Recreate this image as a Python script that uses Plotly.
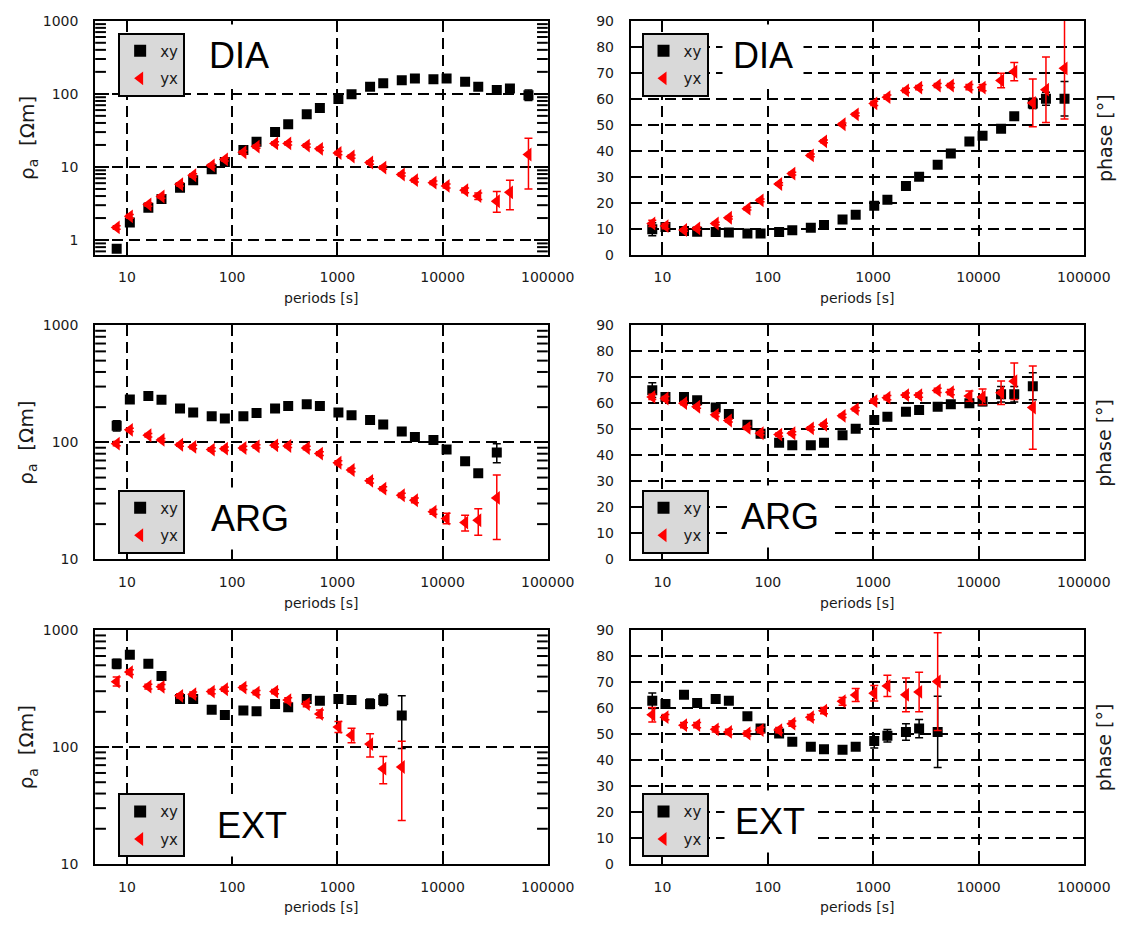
import math
import plotly.graph_objects as go

# ---------------- data ----------------
periods_all = [8, 10.67, 16, 21.33, 32, 42.67, 64, 85.33, 128, 170.7, 256, 341.3, 512, 682.7,
               1024, 1365, 2048, 2731, 4096, 5461, 8192, 10923, 16384, 21845, 32768, 43691, 65536]
periods_dia = periods_all
periods_arg = periods_all[:25]
periods_ext = periods_all[:19]

# DIA
dia_rho_xy = [0.76, 1.74, 2.76, 3.65, 5.2, 6.6, 9.3, 11.7, 17.1, 22.2, 30.2, 38.4, 52.8, 64, 84.8, 98.9,
              125, 140, 154, 162, 158, 162, 147, 125, 113, 118, 96]
dia_rho_xy_ep = [0.05, 0.1, 0.15, 0.2, 0.3, 0.35, 0.5, 0.6, 0.9, 1.1, 1.5, 1.9, 2.6, 3, 4, 5, 6, 7, 8, 8, 8, 9, 8, 7, 6, 8, 17]
dia_rho_xy_em = [0.05, 0.1, 0.15, 0.2, 0.3, 0.35, 0.5, 0.6, 0.9, 1.1, 1.5, 1.9, 2.6, 3, 4, 5, 6, 7, 8, 8, 8, 9, 8, 7, 6, 8, 15]
dia_rho_yx = [1.49, 2.11, 3.06, 3.95, 5.8, 7.7, 10.5, 12.7, 15.9, 19, 21, 21, 19.6, 17.7, 15.5, 13.9,
              11.5, 9.8, 7.9, 6.6, 6.1, 5.5, 4.8, 4.0, 3.4, 4.5, 14.8]
dia_rho_yx_ep = [0.08, 0.12, 0.17, 0.22, 0.3, 0.4, 0.5, 0.6, 0.8, 1, 1.1, 1.1, 1, 0.9, 0.8, 0.7, 0.6, 0.5,
                 0.4, 0.35, 0.35, 0.35, 0.35, 0.4, 1.2, 2.1, 10]
dia_rho_yx_em = [0.08, 0.12, 0.17, 0.22, 0.3, 0.4, 0.5, 0.6, 0.8, 1, 1.1, 1.1, 1, 0.9, 0.8, 0.7, 0.6, 0.5,
                 0.4, 0.35, 0.35, 0.35, 0.35, 0.4, 1.0, 1.9, 9.8]
dia_phi_xy = [9.8, 10.6, 9.1, 8.8, 8.7, 8.5, 8.1, 8.1, 8.7, 9.4, 10.4, 11.4, 13.5, 15.4, 18.8, 21.1, 26.4,
              30, 34.6, 38.9, 43.5, 45.8, 48.5, 53.3, 58.2, 60, 60]
dia_phi_xy_e = [2.5, 1, 0.5, 0.5, 0.5, 0.5, 0.5, 0.5, 0.5, 0.5, 0.5, 0.5, 0.5, 0.6, 0.8, 0.8, 0.8, 0.8, 0.8,
                0.8, 1, 1, 1, 1.2, 2, 2.5, 6.6]
dia_phi_yx = [12, 11, 9.5, 10.1, 12, 14.2, 17.7, 20.9, 27.2, 31.2, 38.2, 43.6, 50.2, 54, 58.2, 60.6, 63.2,
              64.3, 65.1, 65.1, 64.5, 64.3, 67, 70.4, 58.4, 63.5, 71.7]
dia_phi_yx_e = [1.2, 1, 0.5, 0.5, 0.5, 0.5, 0.5, 0.5, 0.5, 0.5, 0.5, 0.5, 0.5, 0.5, 0.8, 0.8, 0.8, 0.8, 0.8,
                0.8, 1, 1.2, 2.8, 3.5, 9.2, 12.6, 19.5]

# ARG
arg_rho_xy = [139, 233, 249, 232, 195, 180, 167, 160, 167, 178, 195, 205, 212, 205, 180, 171, 155, 142,
              124, 111, 105, 86.7, 69, 54.4, 81.8]
arg_rho_xy_ep = [14, 8, 8, 8, 7, 6, 6, 6, 6, 6, 7, 7, 7, 7, 7, 6, 6, 6, 5, 5, 5, 4, 3, 3, 15.7]
arg_rho_xy_em = [14, 8, 8, 8, 7, 6, 6, 6, 6, 6, 7, 7, 7, 7, 7, 6, 6, 6, 5, 5, 5, 4, 3, 3, 14.8]
arg_rho_yx = [97.5, 128, 115, 105, 95.5, 91.4, 86.8, 88.4, 89.6, 92.5, 94.3, 93.2, 89.6, 80.2, 67, 58.1,
              46.9, 40.2, 35.3, 32, 25.5, 22.3, 20.6, 21.6, 33.5]
arg_rho_yx_ep = [4, 4, 4, 3, 3, 3, 3, 3, 3, 3, 3, 3, 3, 3, 2.5, 2, 2, 1.5, 1.5, 1.5, 1.2, 2.5, 3.2, 5.5, 19.2]
arg_rho_yx_em = [4, 4, 4, 3, 3, 3, 3, 3, 3, 3, 3, 3, 3, 3, 2.5, 2, 2, 1.5, 1.5, 1.5, 1.2, 2.2, 3.1, 5.5, 18.7]
arg_phi_xy = [65.1, 62.5, 62.5, 61.2, 58.4, 55.9, 51.8, 48.3, 44.9, 43.9, 43.9, 44.9, 47.7, 50.2, 53.6,
              54.9, 56.8, 57.5, 58.7, 59.7, 60.1, 60.7, 63.5, 63.5, 66.6]
arg_phi_xy_e = [2.8, 0.8, 0.6, 0.6, 0.6, 0.6, 0.6, 0.6, 0.6, 0.6, 0.6, 0.6, 0.6, 0.6, 0.8, 0.8, 0.8, 0.8,
                0.8, 0.8, 1, 1.5, 3, 3, 5.2]
arg_phi_yx = [62.5, 61.9, 60.1, 58.7, 55.6, 53.4, 50.6, 48.5, 48, 48.5, 50.4, 51.8, 55.2, 57.8, 60.9, 62.2,
              63.2, 63.2, 65, 64.3, 62.8, 62.5, 64.1, 68.5, 58.4]
arg_phi_yx_e = [1, 0.8, 0.6, 0.6, 0.6, 0.6, 0.6, 0.6, 0.6, 0.6, 0.6, 0.6, 0.6, 0.6, 0.8, 0.8, 0.8, 0.8,
                0.8, 1, 2, 3, 4.5, 7, 16]

# EXT
ext_rho_xy = [514, 615, 514, 404, 257, 257, 208, 188, 205, 202, 233, 219, 257, 249, 257, 252, 233, 252, 186]
ext_rho_xy_ep = [50, 40, 30, 25, 15, 15, 12, 12, 12, 12, 15, 15, 15, 15, 15, 15, 25, 30, 88]
ext_rho_xy_em = [45, 35, 30, 25, 15, 15, 12, 12, 12, 12, 15, 15, 15, 15, 15, 15, 20, 25, 89]
ext_rho_yx = [362, 437, 329, 327, 274, 283, 298, 312, 322, 292, 298, 252, 233, 192, 148, 126, 106, 65.3, 67.5]
ext_rho_yx_ep = [35, 20, 15, 15, 12, 12, 12, 12, 12, 12, 12, 12, 12, 15, 17, 19, 24, 17.5, 44.5]
ext_rho_yx_em = [30, 20, 15, 15, 12, 12, 12, 12, 12, 12, 12, 12, 12, 14, 15, 17, 24, 16.9, 44]
ext_phi_xy = [62.8, 61.6, 65.1, 61.9, 63.5, 62.8, 56.8, 52.1, 50.2, 47, 45.1, 44.1, 43.9, 45.1, 47.3, 49.3,
              50.8, 52.1, 50.8]
ext_phi_xy_e = [3, 1, 1, 1, 1, 1, 1, 1, 1, 1, 1, 1, 1, 1.2, 2.7, 2.4, 3.2, 3.5, 13.7]
ext_phi_yx = [57.4, 56.5, 53.4, 53.4, 51.8, 50.8, 50.2, 51.5, 51.5, 54, 56.5, 59, 62.6, 65, 65.7, 68.5,
              65.1, 66.2, 70.2]
ext_phi_yx_e = [2.8, 1, 1, 1, 1, 1, 1, 1, 1, 1, 1, 1.2, 1.5, 2.5, 3, 4.1, 6.5, 7.6, 18.8]

site_names = ["DIA", "ARG", "EXT"]
x_tick_vals = [10, 100, 1000, 10000, 100000]
x_tick_text = ["10", "100", "1000", "10000", "100000"]
rho_tick_vals = [1, 10, 100, 1000]
rho_tick_text = ["1", "10", "100", "1000"]
rho_minor_vals = [m * 10 ** e for e in range(-1, 3) for m in range(2, 10)]
phi_tick_vals = [0, 10, 20, 30, 40, 50, 60, 70, 80, 90]
series_names = ["xy", "yx"]

# ---------------- layout geometry (pixels) ----------------
W, H = 1146, 927
col_x = [(97.5, 561), (646, 1110)]
row_y = [(13, 251), (323, 561), (633, 871)]
rho_ranges = [[-0.2, 3], [1, 3], [1, 3]]
MAJOR_LEN, MINOR_LEN = 14, 11


def px(x):
    return x / W


def py(y):
    return 1 - y / H


FONT = "DejaVu Sans"
GRID_DASH = "11px,6px"
TXT = "#1a1a1a"

fig = go.Figure()

sites = [
    (periods_dia, dia_rho_xy, dia_rho_xy_ep, dia_rho_xy_em, dia_rho_yx, dia_rho_yx_ep, dia_rho_yx_em,
     dia_phi_xy, dia_phi_xy_e, dia_phi_yx, dia_phi_yx_e),
    (periods_arg, arg_rho_xy, arg_rho_xy_ep, arg_rho_xy_em, arg_rho_yx, arg_rho_yx_ep, arg_rho_yx_em,
     arg_phi_xy, arg_phi_xy_e, arg_phi_yx, arg_phi_yx_e),
    (periods_ext, ext_rho_xy, ext_rho_xy_ep, ext_rho_xy_em, ext_rho_yx, ext_rho_yx_ep, ext_rho_yx_em,
     ext_phi_xy, ext_phi_xy_e, ext_phi_yx, ext_phi_yx_e),
]

annotations = []
shapes = []
layout = {}

legend_pos = [(121, 25), (121, 490), (121, 799)]
legend_pos_r = [(657, 25), (657, 490), (657, 799)]
label_pos_l = [(245, 48), (256, 519), (258, 832)]
label_pos_r = [(781, 48), (799, 517), (789, 828)]


def marker_black():
    return dict(symbol="square", size=10, color="black")


def marker_red():
    return dict(symbol="triangle-left", size=12, color="#ff0000")


for r, site in enumerate(sites):
    (T, rxy, rxy_ep, rxy_em, ryx, ryx_ep, ryx_em, pxy, pxy_e, pyx, pyx_e) = site
    for c in range(2):
        k = 2 * r + c + 1
        xa = "x" if k == 1 else f"x{k}"
        ya = "y" if k == 1 else f"y{k}"
        lg = "legend" if k == 1 else f"legend{k}"
        if c == 0:
            y1, y1p, y1m, y2, y2p, y2m = rxy, rxy_ep, rxy_em, ryx, ryx_ep, ryx_em
        else:
            y1, y1p, y1m, y2, y2p, y2m = pxy, pxy_e, pxy_e, pyx, pyx_e, pyx_e
        fig.add_trace(go.Scatter(
            x=T, y=y1, mode="markers", name=series_names[0], marker=marker_black(),
            error_y=dict(type="data", array=y1p, arrayminus=y1m, color="black", thickness=1.5, width=4),
            xaxis=xa, yaxis=ya, legend=lg, legendgroup=f"a{k}", showlegend=True))
        fig.add_trace(go.Scatter(
            x=T, y=y2, mode="markers", name=series_names[1], marker=marker_red(),
            error_y=dict(type="data", array=y2p, arrayminus=y2m, color="#ff0000", thickness=1.5, width=4),
            xaxis=xa, yaxis=ya, legend=lg, legendgroup=f"b{k}", showlegend=True))

        x0, x1 = col_x[c]
        yt, yb = row_y[r]
        xkey = "xaxis" if k == 1 else f"xaxis{k}"
        ykey = "yaxis" if k == 1 else f"yaxis{k}"
        layout[xkey] = dict(
            domain=[px(x0), px(x1)], anchor=ya, type="log", range=[0.69897, 5.0001],
            tickmode="array", tickvals=x_tick_vals, ticktext=x_tick_text,
            ticks="inside", ticklen=10, tickwidth=2, tickcolor="black",
            showline=True, linecolor="black", linewidth=2, mirror="allticks",
            showgrid=True, gridcolor="black", gridwidth=1.6, griddash=GRID_DASH,
            tickfont=dict(family=FONT, size=14, color=TXT), ticklabelstandoff=9,
            zeroline=False)
        if c == 0:
            lo, hi = rho_ranges[r]
            layout[ykey] = dict(
                domain=[py(yb), py(yt)], anchor=xa, type="log", range=[lo, hi],
                tickmode="array", tickvals=rho_tick_vals, ticktext=rho_tick_text,
                ticks="inside", ticklen=MAJOR_LEN, tickwidth=2, tickcolor="black",
                showline=True, linecolor="black", linewidth=2, mirror="allticks",
                showgrid=True, gridcolor="black", gridwidth=1.6, griddash=GRID_DASH,
                tickfont=dict(family=FONT, size=14, color=TXT), ticklabelstandoff=12,
                zeroline=False)
            # minor tick marks (2..9 per decade) on both vertical frame sides
            wpx = x1 - x0
            for v in rho_minor_vals:
                f = (math.log10(v) - lo) / (hi - lo)
                if f <= 0.001 or f >= 0.999:
                    continue
                for a, b in ((0, MINOR_LEN / wpx), (1 - MINOR_LEN / wpx, 1)):
                    shapes.append(dict(type="line", xref=f"{xa} domain", yref=f"{ya} domain",
                                       x0=a, x1=b, y0=f, y1=f,
                                       line=dict(color="black", width=2)))
        else:
            layout[ykey] = dict(
                domain=[py(yb), py(yt)], anchor=xa, range=[0, 90],
                tickmode="array", tickvals=phi_tick_vals,
                ticks="inside", ticklen=9, tickwidth=2, tickcolor="black",
                showline=True, linecolor="black", linewidth=2, mirror="allticks",
                showgrid=True, gridcolor="black", gridwidth=1.6, griddash=GRID_DASH,
                tickfont=dict(family=FONT, size=14, color=TXT), ticklabelstandoff=12,
                zeroline=False)

        lx, ly = (legend_pos if c == 0 else legend_pos_r)[r]
        layout[lg] = dict(
            x=px(lx), y=py(ly), xanchor="left", yanchor="top",
            bgcolor="#d9d9d9", bordercolor="black", borderwidth=2,
            font=dict(family=FONT, size=15, color=TXT),
            traceorder="grouped", tracegroupgap=5, itemsizing="constant")

        # site label
        tx, ty = (label_pos_l if c == 0 else label_pos_r)[r]
        annotations.append(dict(
            text=site_names[r], x=px(tx), y=py(ty), xref="paper", yref="paper",
            xanchor="center", yanchor="middle", showarrow=False,
            font=dict(family="Liberation Sans", size=36, color="black"),
            bgcolor="white", borderpad=10))

        # x title
        annotations.append(dict(
            text="periods [s]", x=px((x0 + x1) / 2), y=py(yb + 44), xref="paper", yref="paper",
            xanchor="center", yanchor="middle", showarrow=False,
            font=dict(family=FONT, size=14, color=TXT)))

    # y titles
    yt, yb = row_y[r]
    annotations.append(dict(
        text="ρ<sub>a</sub>  [Ωm]", x=px(28), y=py((yt + yb) / 2), xref="paper", yref="paper",
        xanchor="center", yanchor="middle", showarrow=False, textangle=-90,
        font=dict(family=FONT, size=20, color=TXT)))
    annotations.append(dict(
        text="phase [°]", x=px(1131), y=py((yt + yb) / 2), xref="paper", yref="paper",
        xanchor="center", yanchor="middle", showarrow=False, textangle=-90,
        font=dict(family=FONT, size=19, color=TXT)))

fig.update_layout(
    width=W, height=H, margin=dict(l=0, r=0, t=0, b=0),
    paper_bgcolor="white", plot_bgcolor="white",
    annotations=annotations, shapes=shapes, **layout)

fig.write_html("out.html")
